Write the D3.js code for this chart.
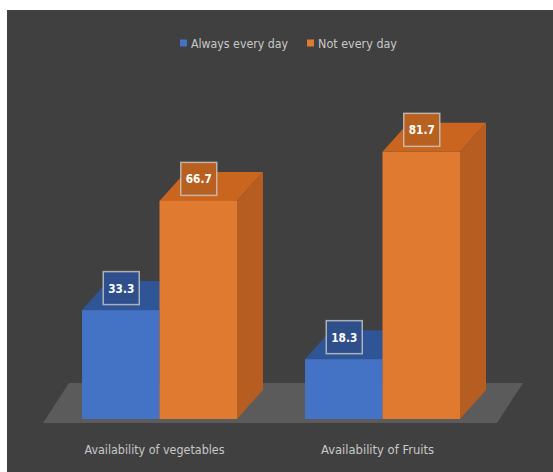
<!DOCTYPE html>
<html>
<head>
<meta charset="utf-8">
<script src="https://cdn.jsdelivr.net/npm/d3@7"></script>
<style>
  html, body { margin: 0; padding: 0; background: #ffffff; }
  svg { display: block; }
  text { font-family: "Liberation Sans Narrow", "DejaVu Sans Condensed", "Roboto Condensed", "Liberation Sans", sans-serif; }
</style>
</head>
<body>
<svg id="chart" width="553" height="472"></svg>
<script>
// ---- data ----
const categories = ["Availability of vegetables", "Availability of Fruits"];
const seriesNames = ["Always every day", "Not every day"];
const alwaysValues = [33.3, 18.3];
const notEveryValues = [66.7, 81.7];

// ---- styles ----
const colors = {
  front: ["#4472c4", "#e07a31"],
  top:   ["#2f5597", "#c9651f"],
  side:  ["#30508c", "#b65d21"],
  label: ["#2f4f8c", "#b8601f"]
};
const depthX = 26, depthY = -29;
const labelWidths = [140, 113];

const svg = d3.select("#chart");
const W = 553, H = 472;

// background
svg.append("rect").attr("x", 0).attr("y", 0).attr("width", W).attr("height", H).attr("fill", "#ffffff");
svg.append("rect").attr("x", 7).attr("y", 10).attr("width", W - 7).attr("height", H - 10).attr("fill", "#404040");

// scales
const x0 = d3.scaleBand().domain(categories).range([47, 495])
  .paddingInner(68 / 223).paddingOuter(35 / 223);
const x1 = d3.scaleBand().domain(seriesNames).range([0, x0.bandwidth()]);
const y = d3.scaleLinear().domain([0, 100]).range([419, 92]);

// floor (parallelogram)
const floorFront = 423, floorBack = 383;
svg.append("polygon")
  .attr("points", [[43, floorFront], [497, floorFront], [523, floorBack], [69, floorBack]].map(p => p.join(",")).join(" "))
  .attr("fill", "#5b5b5b");

const rows = categories.map((c, i) => ({ cat: c, vals: [alwaysValues[i], notEveryValues[i]] }));
const bw = x1.bandwidth();

const g = svg.append("g");
rows.forEach((r) => {
  r.vals.forEach((v, si) => {
    const xl = x0(r.cat) + x1(seriesNames[si]), xr = xl + bw;
    const yt = y(v), yb = y(0);
    // side face
    g.append("polygon")
      .attr("points", [[xr, yt], [xr + depthX, yt + depthY], [xr + depthX, yb + depthY], [xr, yb]].map(p => p.join(",")).join(" "))
      .attr("fill", colors.side[si]);
    // top face
    g.append("polygon")
      .attr("points", [[xl, yt], [xr, yt], [xr + depthX, yt + depthY], [xl + depthX, yt + depthY]].map(p => p.join(",")).join(" "))
      .attr("fill", colors.top[si]);
    // front face
    g.append("rect")
      .attr("x", xl).attr("y", yt).attr("width", bw).attr("height", yb - yt)
      .attr("fill", colors.front[si]);
  });
});

// data labels
rows.forEach((r) => {
  r.vals.forEach((v, si) => {
    const cx = x0(r.cat) + x1(seriesNames[si]) + bw / 2 + 0.5;
    const cy = y(v) - 22;
    const bwid = 36, bh = 33;
    g.append("rect")
      .attr("x", cx - bwid / 2).attr("y", cy - bh / 2)
      .attr("width", bwid).attr("height", bh)
      .attr("fill", colors.label[si])
      .attr("stroke", "#c9c9c9").attr("stroke-opacity", 0.8).attr("stroke-width", 1.5);
    g.append("text")
      .attr("x", cx).attr("y", cy + 4.5)
      .attr("text-anchor", "middle")
      .attr("fill", "#ffffff")
      .attr("font-size", 13).attr("font-weight", "bold")
      .attr("textLength", 26).attr("lengthAdjust", "spacingAndGlyphs")
      .text(v.toFixed(1));
  });
});

// category labels
categories.forEach((c, ci) => {
  const cx = x0(c) + x0.bandwidth() / 2 - 5;
  svg.append("text")
    .attr("x", cx).attr("y", 454)
    .attr("text-anchor", "middle")
    .attr("fill", "#c8c8c8")
    .attr("font-size", 12.5)
    .attr("textLength", labelWidths[ci]).attr("lengthAdjust", "spacingAndGlyphs")
    .text(c);
});

// legend
const legendItems = [
  { name: seriesNames[0], sx: 180, tx: 191, w: 97 },
  { name: seriesNames[1], sx: 307, tx: 318, w: 79 }
];
legendItems.forEach((it, i) => {
  svg.append("rect")
    .attr("x", it.sx).attr("y", 39.5).attr("width", 7).attr("height", 7)
    .attr("fill", colors.front[i]);
  svg.append("text")
    .attr("x", it.tx).attr("y", 47.5)
    .attr("fill", "#c8c8c8")
    .attr("font-size", 12.5)
    .attr("textLength", it.w).attr("lengthAdjust", "spacingAndGlyphs")
    .text(it.name);
});
</script>
</body>
</html>
